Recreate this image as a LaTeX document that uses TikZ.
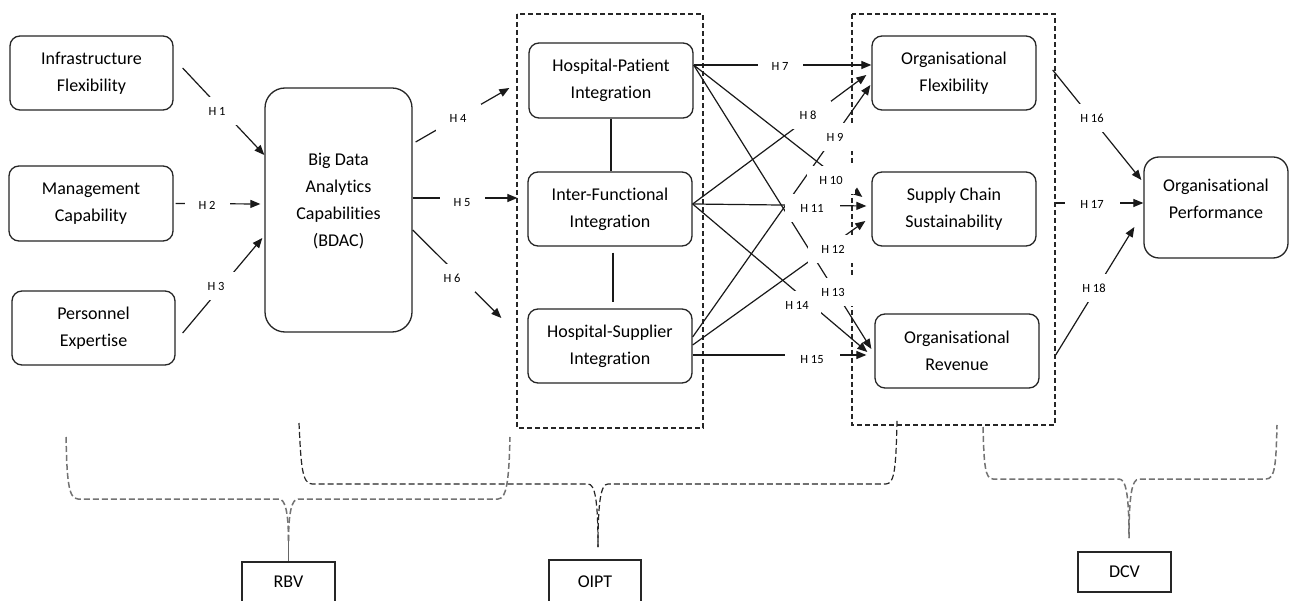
\documentclass[tikz,border=0pt]{standalone}
\usepackage{fontspec}
\setmainfont[Ligatures={NoCommon}]{Carlito}
\usetikzlibrary{arrows.meta}

% multi-line text raised inside its box without changing the box size
\newcommand{\liftedtext}[2]{\raisebox{#1}[\height][\depth]{\begin{tabular}{@{}c@{}}#2\end{tabular}}}

\begin{document}
\begin{tikzpicture}[x=1pt,y=-1pt,
  box/.style={draw=black!85, line width=1.3pt, rounded corners=10pt, align=center,
    inner sep=0pt, font=\fontsize{18}{27}\selectfont, minimum width=164pt, minimum height=74pt},
  tag/.style={draw=black!85, line width=1.3pt, inner sep=0pt,
    font=\fontsize{18}{22}\selectfont, minimum width=93pt, minimum height=40pt},
  arr/.style={draw=black!90, line width=1.2pt, -{Triangle[length=10pt,width=8pt]}},
  link/.style={draw=black!90, line width=1.2pt},
  hl/.style={fill=white, inner sep=0pt, minimum width=45pt, minimum height=28pt,
    font=\fontsize{12.5}{14}\selectfont},
  hlw/.style={hl, minimum width=55pt},
  frame/.style={draw=black!85, line width=1.2pt, dash pattern=on 5pt off 3pt},
  bracegray/.style={draw=black!55, line width=1.5pt, dash pattern=on 6pt off 3pt},
  braceblack/.style={draw=black!85, line width=1.2pt, dash pattern=on 6pt off 3pt},
]
\useasboundingbox (0,0) rectangle (1293,601);
\fill[white] (0,0) rectangle (1293,601);

% group frames
\draw[frame] (517,14) rectangle (703,428);
\draw[frame] (852,14) rectangle (1055,425);

% antecedents
\node[box, minimum width=163pt] (inf) at (91.5,73) {Infrastructure\\Flexibility};
\node[box, minimum height=75pt] (mgmt) at (91,203.5) {Management\\Capability};
\node[box, minimum width=163pt] (pers) at (93.5,328) {Personnel\\Expertise};

% BDAC
\node[box, rounded corners=20pt, minimum width=147pt, minimum height=244pt] (bdac) at (338.5,210)
  {\liftedtext{9pt}{Big Data\\Analytics\\Capabilities\\(BDAC)}};

% integration constructs
\node[box, minimum height=75pt] (hp) at (611,80.5) {Hospital-Patient\\Integration};
\node[box] (ifi) at (610,209) {Inter-Functional\\Integration};
\node[box] (hs) at (610,346) {Hospital-Supplier\\Integration};

% outcomes
\node[box] (of) at (954,73) {Organisational\\Flexibility};
\node[box] (scs) at (954,209) {Supply Chain\\Sustainability};
\node[box] (rev) at (957,351) {Organisational\\Revenue};
\node[box, rounded corners=15pt, minimum width=144pt, minimum height=101pt] (perf) at (1216,207.5)
  {\liftedtext{8pt}{Organisational\\Performance}};

% theory tags
\node[tag] (rbv) at (288.5,582) {RBV};
\node[tag, minimum width=92pt, minimum height=44pt] (oipt) at (595,582) {OIPT};
\node[tag] (dcv) at (1124.5,572) {DCV};

% links between integration constructs
\draw[link] (hp.south) -- (hp.south |- ifi.north);
\draw[link] ([shift={(3,6)}]ifi.south) -- ([shift={(3,-6)}]hs.north);

% hypotheses H1--H6
\draw[arr] ([shift={(9,-5)}]inf.east) -- ([shift={(0,-55)}]bdac.west);
\draw[arr] ([shift={(2,0)}]mgmt.east) -- ([shift={(-4,-6)}]bdac.west);
\draw[arr] ([shift={(7,5)}]pers.east) -- ([shift={(-2,28)}]bdac.west);
\draw[arr] ([shift={(3,-68)}]bdac.east) -- ([shift={(-19,7.5)}]hp.west);
\draw[arr] ([shift={(0,-12)}]bdac.east) -- ([shift={(-10,-11)}]ifi.west);
\draw[arr] ([shift={(0,20)}]bdac.east) -- ([shift={(-26,-28)}]hs.west);

% hypotheses H7--H15
\draw[arr] ([shift={(0,-15.5)}]hp.east) -- ([shift={(0,-8)}]of.west);
\draw[arr] ([shift={(0,-5)}]ifi.east) -- ([shift={(-5,2)}]of.west);
\draw[arr] ([shift={(0,-9)}]hs.east) -- ([shift={(-1,12)}]of.west);
\draw[arr] ([shift={(0,-15.5)}]hp.east) -- ([shift={(-9,-12)}]scs.west);
\draw[arr] ([shift={(0,-5)}]ifi.east) -- ([shift={(-5,-3)}]scs.west);
\draw[arr] ([shift={(0,-1)}]hs.east) -- ([shift={(-6,12)}]scs.west);
\draw[arr] ([shift={(0,-15.5)}]hp.east) -- ([shift={(-3,-2)}]rev.west);
\draw[arr] ([shift={(0,-5)}]ifi.east) -- ([shift={(-7,1)}]rev.west);
\draw[arr] ([shift={(0,9)}]hs.east) -- ([shift={(-8,4)}]rev.west);

% hypotheses H16--H18
\draw[arr] ([shift={(16,-3)}]of.east) -- ([shift={(-2,-27.5)}]perf.west);
\draw[arr] ([shift={(19,-6)}]scs.east) -- ([shift={(0,-4.5)}]perf.west);
\draw[arr] ([shift={(16,4)}]rev.east) -- ([shift={(-9,19.5)}]perf.west);

% hypothesis labels
\node[hl] (l1) at (217,111) {H 1};
\node[hl] (l2) at (207,205) {H 2};
\node[hl] (l3) at (216,286) {H 3};
\node[hl] (l4) at (458,118) {H 4};
\node[hl] (l5) at (462,203) {H 5};
\node[hl] (l6) at (452,278) {H 6};
\node[hl] (l7) at (780,66) {H 7};
\node[hl] (l8) at (808,115) {H 8};
\node[hl] (l9) at (835,137) {H 9};
\node[hlw, minimum width=48pt] (l10) at (831,180) {H 10};
\node[hlw] (l11) at (812,208) {H 11};
\node[hlw, minimum width=50pt] (l12) at (833,249) {H 12};
\node[hlw, minimum width=50pt] (l13) at (833,292) {H 13};
\node[hlw, minimum width=48pt] (l14) at (797,305) {H 14};
\node[hlw] (l15) at (812,360) {H 15};
\node[hlw] (l16) at (1092,118) {H 16};
\node[hlw] (l17) at (1092,204) {H 17};
\node[hlw] (l18) at (1094,288) {H 18};

% theory braces
\coordinate (rbvtip) at (288.5,541);
\draw[bracegray] (66,437) .. controls (67,478) and (68,499) .. (78,499) -- (279,499)
  .. controls (285,499) and (288.5,512) .. (rbvtip);
\draw[bracegray] (rbvtip) .. controls (288.5,512) and (292,499) .. (298,499) -- (498,499)
  .. controls (507,499) and (509,478) .. (510,437);
\draw[link, draw=black!60] (rbvtip) -- (rbv.north);

\coordinate (oipttip) at (598,547);
\draw[braceblack] (299,423) .. controls (301,465) and (302,484) .. (312,484) -- (588,484)
  .. controls (595,484) and (598,500) .. (oipttip);
\draw[braceblack] (oipttip) .. controls (598,500) and (601,484) .. (608,484) -- (886,484)
  .. controls (895,484) and (896,465) .. (897,420);

\coordinate (dcvtip) at (1129,538);
\draw[bracegray] (983,427) .. controls (984,465) and (985,479) .. (993,479) -- (1119,479)
  .. controls (1126,479) and (1129,495) .. (dcvtip);
\draw[bracegray] (dcvtip) .. controls (1129,495) and (1132,479) .. (1139,479) -- (1266,479)
  .. controls (1275,479) and (1276,465) .. (1277,425);
\end{tikzpicture}
\end{document}
